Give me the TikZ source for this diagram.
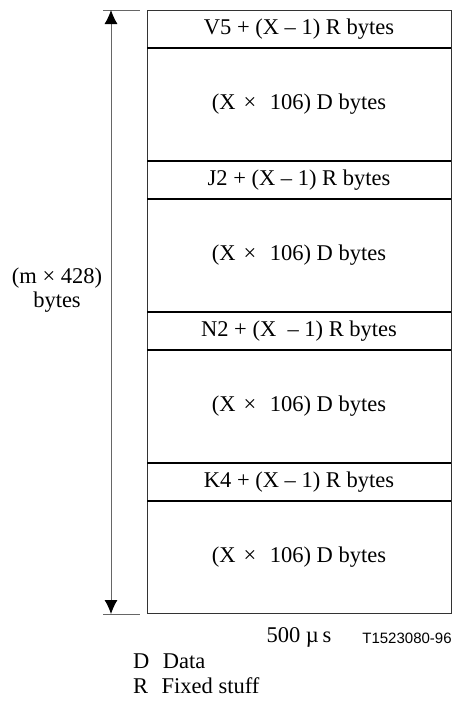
\documentclass[tikz,border=0pt]{standalone}
\usepackage{fontspec}
\setmainfont{Liberation Serif}
\newfontfamily\labelsans{Liberation Sans}
\usepackage{tikz}
\usetikzlibrary{arrows.meta,positioning}

\newcommand{\wgap}{\hspace{0.6em}}

\begin{document}
\begin{tikzpicture}[x=1pt, y=-1pt,
    rowbox/.style={rectangle, minimum width=304pt, inner sep=0pt, outer sep=0pt,
      align=center, font=\fontsize{22.5}{26}\selectfont},
    hdrbox/.style={rowbox, minimum height=38pt},
    databox/.style={rowbox, minimum height=113pt},
    frameline/.style={draw=black!80, line width=0.9pt},
    divline/.style={draw=black, line width=2pt},
    dimline/.style={draw=black!60, line width=0.9pt},
    dimtip/.style={-{Latex[length=14pt,width=13pt,color=black]}, draw=black!60, line width=0.9pt},
    legendtxt/.style={anchor=base west, inner sep=0pt, font=\fontsize{22.5}{26}\selectfont}
  ]
    \useasboundingbox (0,0) rectangle (456,707);

    % frame rows
    \node[hdrbox]  (h1) at (299,29)    {V5 + (X – 1) R bytes};
    \node[databox] (d1) at (299,104.5) {(X\hspace{0.35em}×\wgap 106) D bytes};
    \node[hdrbox]  (h2) at (299,180)   {J2 + (X – 1) R bytes};
    \node[databox] (d2) at (299,255.5) {(X\hspace{0.35em}×\wgap 106) D bytes};
    \node[hdrbox]  (h3) at (299,331)   {N2 + (X\ \ – 1) R bytes};
    \node[databox] (d3) at (299,406.5) {(X\hspace{0.35em}×\wgap 106) D bytes};
    \node[hdrbox]  (h4) at (299,482)   {K4 + (X – 1) R bytes};
    \node[databox] (d4) at (299,557)   {(X\hspace{0.35em}×\wgap 106) D bytes};

    \draw[frameline] (h1.north west) rectangle (d4.south east);
    \draw[divline] (h1.south west) -- (h1.south east);
    \draw[divline] (h2.north west) -- (h2.north east);
    \draw[divline] (h2.south west) -- (h2.south east);
    \draw[divline] (h3.north west) -- (h3.north east);
    \draw[divline] (h3.south west) -- (h3.south east);
    \draw[divline] (h4.north west) -- (h4.north east);
    \draw[divline] (h4.south west) -- (h4.south east);

    % height dimension
    \coordinate (dimtop) at (111,10);
    \coordinate (dimbot) at (111,614);
    \coordinate (dimmid) at (111,312);
    \coordinate (ticktopl) at (103,10);
    \coordinate (ticktopr) at (140,10);
    \coordinate (tickbotl) at (103,614);
    \coordinate (tickbotr) at (140,614);
    \draw[dimline] (ticktopl) -- (ticktopr);
    \draw[dimline] (tickbotl) -- (tickbotr);
    \draw[dimtip] (dimmid) -- (dimtop);
    \draw[dimtip] (dimmid) -- (dimbot);
    \node[align=center, font=\fontsize{22.5}{24}\selectfont] (hgt) at (57,290) {(m × 428)\\bytes};

    % period and legend
    \node[anchor=base, inner sep=0pt, font=\fontsize{22.5}{26}\selectfont] (period) at (299,642) {500 µ\,s};
    \node[anchor=base, font=\labelsans\fontsize{15}{18}\selectfont, inner sep=0pt] (figid) at (407,643) {T1523080-96};
    \node[legendtxt] (legd) at (133,668) {D\wgap Data};
    \node[legendtxt] (legr) at (133,693) {R\wgap Fixed stuff};
  \end{tikzpicture}
\end{document}
